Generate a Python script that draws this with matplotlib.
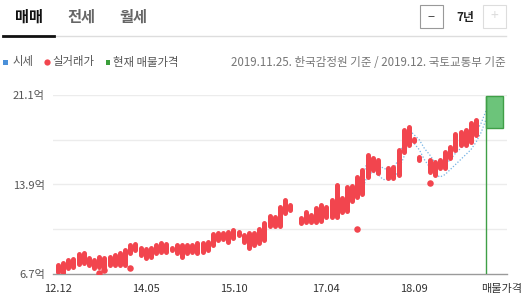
import matplotlib
matplotlib.use("Agg")
import matplotlib.pyplot as plt
from matplotlib.patches import Rectangle
from matplotlib.lines import Line2D

plt.rcParams['font.family'] = ['Noto Sans CJK KR', 'DejaVu Sans']

# ---- data (months since 2012.12) ----
months = list(range(0, 46)) + list(range(47, 63)) + list(range(64, 71)) + list(range(72, 82))
lo = [6.9, 6.8, 7.2, 7.3, 7.5, 7.6, 7.4, 7.2, 7.3, 7.0,
      7.4, 7.4, 7.4, 7.4, 8.4, 8.6, 8.2, 8.0, 8.1, 8.4,
      8.5, 8.5, 8.6, 8.4, 8.1, 8.4, 8.5, 8.4, 8.5, 8.6,
      9.0, 9.4, 9.5, 9.3, 9.6, 9.8, 9.3, 8.8, 9.0, 9.2,
      9.45, 10.6, 10.6, 10.6, 11.6, 11.85,
      10.8, 10.9, 10.9, 10.9, 11.0, 11.3, 11.3, 11.3, 11.7, 11.8,
      12.6, 12.9, 13.1, 14.5, 15.1, 14.8,
      14.4, 14.4, 14.7, 16.5, 17.1, 17.4, 15.9,
      14.9, 14.7, 15.2, 15.2, 16.0, 16.7, 17.1, 17.1, 17.3, 17.9]
hi = [7.4, 7.6, 7.8, 7.9, 8.3, 8.4, 8.0, 7.8, 8.1, 8.0,
      8.1, 8.2, 8.4, 8.6, 9.0, 9.1, 8.8, 8.7, 8.8, 9.0,
      9.2, 9.1, 8.8, 9.0, 9.0, 9.0, 9.0, 9.2, 9.2, 9.3,
      9.9, 10.0, 10.0, 10.1, 10.2, 10.1, 9.8, 10.0, 10.0, 10.3,
      10.8, 11.4, 11.3, 12.1, 12.65, 12.25,
      11.2, 11.7, 11.45, 12.0, 12.25, 12.1, 12.65, 13.86, 12.8, 13.7,
      13.8, 14.5, 15.1, 16.3, 16.0, 15.9,
      15.2, 15.3, 16.7, 18.3, 18.5, 17.6, 16.1,
      15.9, 15.7, 15.9, 16.5, 16.9, 18.0, 18.1, 18.3, 18.85, 19.1]
outlier_months = [8, 9, 14, 58, 72]
outlier_vals = [6.8, 7.0, 7.2, 10.3, 14.0]

band_months = list(range(58, 84))
band_upper = [13.46, 14.4, 15.9, 16.0, 15.6, 15.2, 15.1, 15.1, 16.0, 17.3,
              18.3, 17.9, 17.5, 16.8, 16.3, 15.7, 15.2, 15.5, 15.9, 16.4,
              16.8, 17.2, 17.6, 18.1, 18.85, 19.9]
band_lower = [12.9, 13.5, 14.7, 14.9, 14.7, 14.3, 14.3, 14.3, 15.1, 16.1,
              17.5, 17.2, 16.7, 15.9, 15.3, 14.8, 14.5, 14.7, 15.1, 15.5,
              15.9, 16.3, 16.7, 17.3, 18.1, 19.2]

listing_month = 83
listing_lo, listing_hi = 18.46, 21.0

ytick_vals = [6.7, 10.3, 13.9, 17.5, 21.1]
ytick_labels = ['6.7억', '', '13.9억', '', '21.1억']
xtick_pos = [0, 17, 34, 52, 69, 86]
xtick_labels = ['12.12', '14.05', '15.10', '17.04', '18.09', '매물가격']

# ---- figure ----
W, H = 528, 299
fig = plt.figure(figsize=(W / 100, H / 100), dpi=100)

def px(x, y):
    return x / W, 1 - y / H

ax = fig.add_axes([53 / W, 1 - 274 / H, (507 - 53) / W, (274 - 95) / H])
ax.set_xlim(-0.97, 87.0)
ax.set_ylim(6.7, 21.1)

for v in ytick_vals[1:]:
    ax.axhline(v, color='#ececec', lw=1, zorder=0)
for s in ['top', 'right', 'left']:
    ax.spines[s].set_visible(False)
ax.spines['bottom'].set_color('#9a9a9a')
ax.spines['bottom'].set_linewidth(1)

red = '#f2454e'
ax.vlines(months, lo, hi, colors=red, linewidth=3.6, capstyle='round', zorder=3)
ax.scatter(outlier_months, outlier_vals, s=22, color=red, linewidths=0, zorder=3)

ax.plot(band_months, band_upper, color='#74b2e4', lw=0.9, ls=(0, (1, 1.5)), zorder=2)
ax.plot(band_months, band_lower, color='#74b2e4', lw=0.9, ls=(0, (1, 1.5)), zorder=2)

green = '#3f9f47'
ax.add_patch(Rectangle((listing_month, listing_lo), 3.3, listing_hi - listing_lo,
                       facecolor='#6cc47a', edgecolor=green, lw=1, zorder=4, clip_on=False))
ax.vlines([listing_month], 6.7, listing_hi, colors=green, lw=1, zorder=4)

ax.set_yticks(ytick_vals)
ax.set_yticklabels(ytick_labels)
ax.set_xticks(xtick_pos)
ax.set_xticklabels(xtick_labels)
ax.tick_params(axis='y', length=0, pad=6, labelsize=8, labelcolor='#555555')
ax.tick_params(axis='x', length=0, pad=7, labelsize=8, labelcolor='#333333')

# ---- header ----
fig.text(*px(29, 17), '매매', ha='center', va='center', fontsize=11, fontweight='bold', color='#111111')
fig.text(*px(81, 17), '전세', ha='center', va='center', fontsize=11, fontweight='bold', color='#666666')
fig.text(*px(133, 17), '월세', ha='center', va='center', fontsize=11, fontweight='bold', color='#666666')
fig.add_artist(Line2D([54 / W, 506 / W], [1 - 36 / H] * 2, color='#dddddd', lw=1))
fig.add_artist(Line2D([3 / W, 54 / W], [1 - 35.5 / H] * 2, color='#111111', lw=2))

fig.add_artist(Rectangle(px(420, 28), 23 / W, 23 / H, transform=fig.transFigure,
                         facecolor='white', edgecolor='#999999', lw=0.8))
fig.text(*px(431.5, 16.5), '−', ha='center', va='center', fontsize=9, color='#333333')
fig.text(*px(465, 17), '7년', ha='center', va='center', fontsize=8.5, fontweight='bold', color='#222222')
fig.add_artist(Rectangle(px(483, 28), 23 / W, 23 / H, transform=fig.transFigure,
                         facecolor='white', edgecolor='#dddddd', lw=0.8))
fig.text(*px(494.5, 16.5), '+', ha='center', va='center', fontsize=10, color='#dddddd')

# ---- legend row ----
fig.add_artist(Rectangle(px(3, 64.5), 4.5 / W, 4.5 / H, transform=fig.transFigure,
                         facecolor='#4a90d9', edgecolor='none'))
fig.text(*px(13, 62), '시세', ha='left', va='center', fontsize=8.2, color='#555555')
fig.add_artist(Line2D([46.5 / W], [1 - 62 / H], marker='o', markersize=4.5, color=red,
                      markeredgewidth=0, linestyle='none'))
fig.text(*px(52, 62), '실거래가', ha='left', va='center', fontsize=8.2, color='#555555')
fig.add_artist(Rectangle(px(105.5, 64.5), 4.5 / W, 4.5 / H, transform=fig.transFigure,
                         facecolor='#3a9e3a', edgecolor='none'))
fig.text(*px(113, 62), '현재 매물가격', ha='left', va='center', fontsize=8.2, color='#555555')
fig.text(*px(506, 62), '2019.11.25. 한국감정원 기준 / 2019.12. 국토교통부 기준',
         ha='right', va='center', fontsize=8.3, color='#777777')

fig.savefig('out.png', dpi=100)
